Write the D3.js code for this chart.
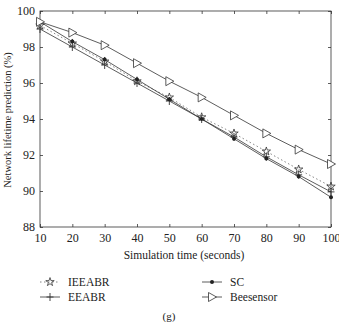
<!DOCTYPE html>
<html>
<head>
<meta charset="utf-8">
<script src="https://cdn.jsdelivr.net/npm/d3@7"></script>
<style>
body { margin: 0; background: #fff; }
</style>
</head>
<body>
<script>
let width = 339
let height = 322

let times = [10, 20, 30, 40, 50, 60, 70, 80, 90, 100]
let ieeabr = [99.2, 98.2, 97.2, 96.1, 95.2, 94.1, 93.2, 92.2, 91.2, 90.25]
let eeabr = [99.0, 98.0, 97.0, 96.0, 95.0, 94.0, 93.0, 91.9, 90.9, 89.95]
let sc = [99.4, 98.3, 97.3, 96.2, 95.1, 94.0, 92.9, 91.8, 90.8, 89.65]
let beesensor = [99.4, 98.8, 98.1, 97.1, 96.1, 95.2, 94.2, 93.2, 92.3, 91.5]
let xTicks = [10, 20, 30, 40, 50, 60, 70, 80, 90, 100]
let yTicks = [88, 90, 92, 94, 96, 98, 100]

let series = [
  {name: "IEEABR", values: ieeabr, marker: "star", dash: "1.5,2.5"},
  {name: "EEABR", values: eeabr, marker: "plus", dash: null},
  {name: "SC", values: sc, marker: "dot", dash: null},
  {name: "Beesensor", values: beesensor, marker: "tri", dash: null}
]

let pLeft = 40, pRight = 331, pTop = 11, pBottom = 227
let font = "'Liberation Serif', 'DejaVu Serif', serif"

let svg = d3.select("body")
  .append("svg")
  .attr("width", width)
  .attr("height", height)

let x = d3.scaleLinear().domain([10, 100]).range([pLeft, pRight])
let y = d3.scaleLinear().domain([88, 100]).range([pBottom, pTop])

let stroke = "#333"

// box
svg.append("rect")
  .attr("x", pLeft).attr("y", pTop)
  .attr("width", pRight - pLeft).attr("height", pBottom - pTop)
  .attr("fill", "none").attr("stroke", stroke).attr("stroke-width", 0.8)

svg.append("g")
  .attr("transform", "translate(0," + pBottom + ")")
  .call(d3.axisBottom(x).tickValues(xTicks).tickSize(-3).tickPadding(6))
svg.append("g")
  .attr("transform", "translate(0," + pTop + ")")
  .call(d3.axisTop(x).tickValues(xTicks).tickSize(-3).tickFormat(""))
svg.append("g")
  .attr("transform", "translate(" + pLeft + ",0)")
  .call(d3.axisLeft(y).tickValues(yTicks).tickSize(-3).tickPadding(5))
svg.append("g")
  .attr("transform", "translate(" + pRight + ",0)")
  .call(d3.axisRight(y).tickValues(yTicks).tickSize(-3).tickFormat(""))

svg.selectAll(".domain").remove()
svg.selectAll(".tick line").attr("stroke", stroke).attr("stroke-width", 0.8)
svg.selectAll(".tick text").style("font-size", "12px").attr("fill", "#222")
  .style("font-family", font)

svg.append("text")
  .attr("x", 184).attr("y", 259)
  .attr("text-anchor", "middle")
  .style("font-family", font).style("font-size", "11.5px").attr("fill", "#222")
  .text("Simulation time (seconds)")

svg.append("text")
  .attr("transform", "translate(11," + 120 + ") rotate(-90)")
  .attr("text-anchor", "middle")
  .style("font-family", font).style("font-size", "10.5px").attr("fill", "#222")
  .text("Network lifetime prediction (%)")

function drawMarker(g, type, cx, cy) {
  if (type === "star") {
    g.append("path")
      .attr("d", d3.symbol().type(d3.symbolStar).size(22)())
      .attr("transform", "translate(" + cx + "," + cy + ")")
      .attr("fill", "none").attr("stroke", stroke).attr("stroke-width", 0.8)
  } else if (type === "plus") {
    g.append("path")
      .attr("d", "M" + (cx - 3.5) + "," + cy + "H" + (cx + 3.5) + "M" + cx + "," + (cy - 4) + "V" + (cy + 4))
      .attr("stroke", stroke).attr("stroke-width", 0.9)
  } else if (type === "dot") {
    g.append("circle")
      .attr("cx", cx).attr("cy", cy).attr("r", 2)
      .attr("fill", "#222")
  } else if (type === "tri") {
    g.append("path")
      .attr("d", "M" + (cx - 3.5) + "," + (cy - 4.5) + "L" + (cx + 4.5) + "," + cy + "L" + (cx - 3.5) + "," + (cy + 4.5) + "Z")
      .attr("fill", "#fff").attr("stroke", stroke).attr("stroke-width", 0.8)
  }
}

let line = d3.line()
  .x((d, i) => x(times[i]))
  .y(d => y(d))

series.forEach(s => {
  svg.append("path")
    .datum(s.values)
    .attr("d", line)
    .attr("fill", "none")
    .attr("stroke", s.dash ? "#666" : stroke)
    .attr("stroke-width", 0.8)
    .attr("stroke-dasharray", s.dash)
})
series.forEach(s => {
  let g = svg.append("g")
  s.values.forEach((v, i) => drawMarker(g, s.marker, x(times[i]), y(v)))
})

// legend
let legendPos = [[40, 282], [40, 297], [202, 282], [202, 297]]
series.forEach((s, i) => {
  let lx = legendPos[i][0], ly = legendPos[i][1]
  let g = svg.append("g")
  g.append("line")
    .attr("x1", lx).attr("x2", lx + 20).attr("y1", ly).attr("y2", ly)
    .attr("stroke", s.dash ? "#666" : stroke).attr("stroke-width", 0.8)
    .attr("stroke-dasharray", s.dash)
  drawMarker(g, s.marker, lx + 10, ly)
  g.append("text")
    .attr("x", lx + 28).attr("y", ly + 4)
    .style("font-family", font).style("font-size", "11.5px").attr("fill", "#222")
    .text(s.name)
})

svg.append("text")
  .attr("x", 169).attr("y", 320)
  .attr("text-anchor", "middle")
  .style("font-family", font).style("font-size", "11px").attr("fill", "#222")
  .text("(g)")
</script>
</body>
</html>
